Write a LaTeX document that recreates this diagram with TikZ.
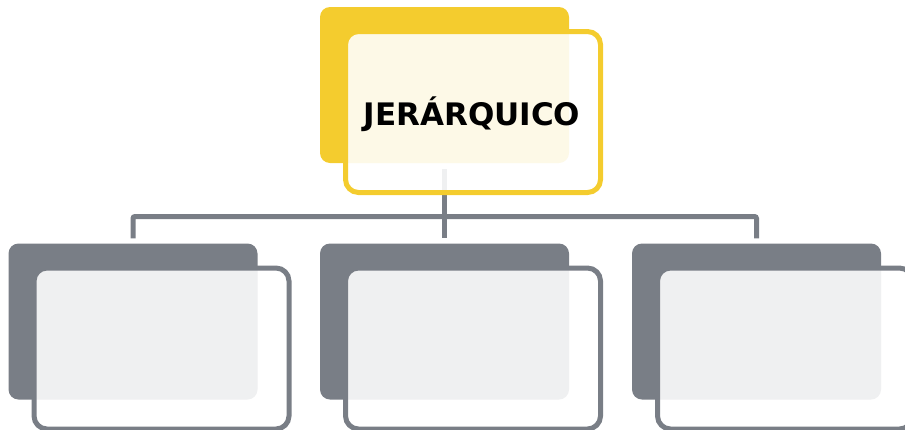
\documentclass[tikz,border=0pt]{standalone}
\usepackage{fontspec}
\newfontfamily\labfont{DejaVu Sans}
\definecolor{ayellow}{HTML}{F4CC2E}
\definecolor{agray}{HTML}{797E86}
\tikzset{
  backbox/.style={rectangle, rounded corners=10pt, inner sep=0pt, draw=none,
    minimum width=249pt, minimum height=156pt},
  frontbox/.style={rectangle, rounded corners=13pt, inner sep=0pt, line width=5pt,
    minimum width=255pt, minimum height=161pt, fill=white, fill opacity=0.885, text opacity=1},
  conn/.style={draw=agray, line width=5pt, rounded corners=2pt},
  lbl/.style={font=\labfont\bfseries\fontsize{31}{36}\selectfont, text=black}
}
\begin{document}
\begin{tikzpicture}[x=1pt,y=-1pt]
\useasboundingbox (0,0) rectangle (905,429);
\clip (0,0) rectangle (905,429);
% back boxes
\node[backbox, fill=ayellow] (yb) at (444.5,85) {};
\node[backbox, fill=agray] (gb1) at (133,321.5) {};
\node[backbox, fill=agray] (gb2) at (444.5,321.5) {};
\node[backbox, fill=agray] (gb3) at (756.5,321.5) {};
% connectors
\coordinate (hub) at (444.5,216.5);
\draw[conn] ([yshift=-6pt]yb.south) -- ([yshift=5pt]gb2.north);
\draw[conn] ([yshift=5pt]gb1.north) |- (hub) -| ([yshift=5pt]gb3.north);
% front boxes
\node[frontbox, draw=ayellow] (yf) at (473,112) {};
\node[lbl] (ylab) at (472,114.5) {JERÁRQUICO};
\node[frontbox, draw=agray] (gf1) at (161.5,348.5) {};
\node[frontbox, draw=agray] (gf2) at (473,348.5) {};
\node[frontbox, draw=agray] (gf3) at (785,348.5) {};
\end{tikzpicture}
\end{document}
